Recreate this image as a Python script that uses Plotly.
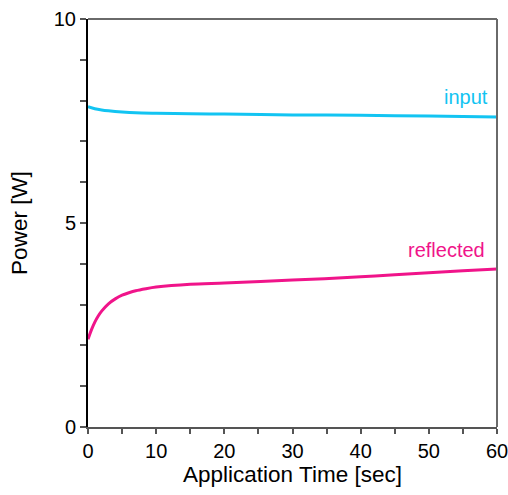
import plotly.graph_objects as go

time_input = [0, 1, 2, 3, 5, 7, 10, 15, 20, 30, 40, 50, 60]
power_input = [7.85, 7.80, 7.77, 7.75, 7.72, 7.70, 7.69, 7.68, 7.67, 7.65, 7.64, 7.62, 7.60]

time_reflected = [0, 0.5, 1, 1.5, 2, 3, 4, 5, 6, 7, 8.5, 10, 15, 20, 30, 40, 45, 50, 55, 60]
power_reflected = [2.15, 2.38, 2.57, 2.72, 2.84, 3.02, 3.14, 3.23, 3.29, 3.34, 3.39, 3.43, 3.50, 3.53, 3.60, 3.68, 3.73, 3.78, 3.83, 3.87]

y_tickvals = list(range(0, 11))
y_ticktext = ["0", "", "", "", "", "5", "", "", "", "", "10"]
x_tickvals = list(range(0, 61, 5))
x_ticktext = [str(v) if v % 10 == 0 else "" for v in x_tickvals]

c_input = "#12C4F2"
c_refl = "#F0148A"
font_family = "Liberation Sans, Arial, sans-serif"

fig = go.Figure()
fig.add_trace(go.Scatter(x=time_input, y=power_input, mode="lines",
                         line=dict(color=c_input, width=3, shape="spline", smoothing=0.8), showlegend=False))
fig.add_trace(go.Scatter(x=time_reflected, y=power_reflected, mode="lines",
                         line=dict(color=c_refl, width=3, shape="spline", smoothing=0.8), showlegend=False))

fig.add_annotation(x=59, y=8.09, text="input", showarrow=False, xanchor="right", yanchor="middle",
                   font=dict(color=c_input, size=20, family=font_family))
fig.add_annotation(x=58.5, y=4.34, text="reflected", showarrow=False, xanchor="right", yanchor="middle",
                   font=dict(color=c_refl, size=20, family=font_family))

# top and right frame lines (gray)
fig.add_shape(type="line", xref="paper", yref="paper", x0=0, x1=1, y0=1, y1=1,
              line=dict(color="#6a6a6a", width=2))
fig.add_shape(type="line", xref="paper", yref="paper", x0=1, x1=1, y0=0, y1=1,
              line=dict(color="#6a6a6a", width=2))

fig.update_xaxes(range=[0, 60], tickvals=x_tickvals, ticktext=x_ticktext,
                 ticks="outside", ticklen=5, tickcolor="#555555", tickwidth=1.5,
                 showline=True, linecolor="#555555", linewidth=2, showgrid=False, zeroline=False,
                 ticklabeloverflow="allow",
                 tickfont=dict(size=20, family=font_family, color="black"),
                 title=dict(text="Application Time [sec]", font=dict(size=22.5, family=font_family, color="black"),
                            standoff=2))
fig.update_yaxes(range=[0, 10], tickvals=y_tickvals, ticktext=y_ticktext,
                 ticks="outside", ticklen=6, tickcolor="#555555", tickwidth=1.5,
                 showline=True, linecolor="black", linewidth=2, showgrid=False, zeroline=False,
                 ticklabeloverflow="allow",
                 tickfont=dict(size=20, family=font_family, color="black"),
                 title=dict(text="Power [W]", font=dict(size=22.5, family=font_family, color="black"),
                            standoff=20))

fig.update_layout(width=508, height=495, margin=dict(l=88, r=11, t=19, b=68, autoexpand=False),
                  plot_bgcolor="white", paper_bgcolor="white")

fig.write_html("out.html", config={"displayModeBar": False},
               post_script="document.body.style.margin='0';document.body.style.overflow='hidden';")
